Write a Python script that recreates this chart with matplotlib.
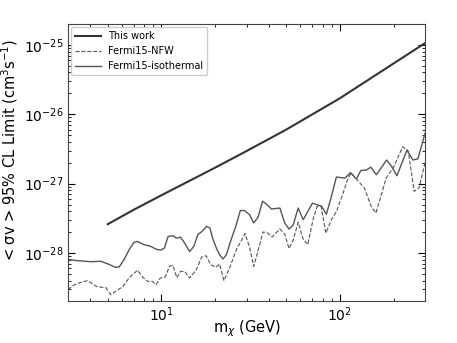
import numpy as np
import matplotlib
matplotlib.use("Agg")
import matplotlib.pyplot as plt

# "This work" limit curve
mass_this = [5, 7, 10, 20, 30, 50, 100, 200, 300]
sigma_this = [2.6e-28, 4.2e-28, 6.8e-28, 1.7e-27, 2.95e-27, 6.0e-27, 1.7e-26, 5.4e-26, 1.06e-25]

# Fermi15 isothermal profile
mass_iso = [3.0, 3.31, 4.01, 4.57, 5.06, 5.54, 5.80, 6.17, 6.60, 7.02, 7.33, 7.99, 8.71, 9.29,
            9.91, 10.4, 10.9, 11.6, 12.1, 12.8, 13.5, 14.4, 15.2, 16.0, 16.9, 17.9, 18.7, 19.5,
            20.4, 21.2, 22.1, 23.1, 24.4, 26.1, 27.7, 29.3, 31.2, 32.9, 34.8, 36.9, 38.8, 41.4,
            46.1, 49.1, 51.9, 54.7, 58.4, 62.3, 70.3, 74.3, 79.0, 84.0, 89.0, 95.6, 106.7, 114.8,
            123.7, 131.2, 140.8, 149.2, 160.2, 182.7, 195, 208.8, 237.5, 256.7, 273.8, 300]
sigma_iso = [8.1e-29, 7.8e-29, 7.5e-29, 7.6e-29, 6.9e-29, 6.2e-29, 6.3e-29, 8.0e-29, 1.12e-28,
             1.42e-28, 1.47e-28, 1.32e-28, 1.25e-28, 1.14e-28, 1.10e-28, 1.18e-28, 1.73e-28,
             1.78e-28, 1.64e-28, 1.69e-28, 1.39e-28, 1.05e-28, 1.25e-28, 1.84e-28, 2.05e-28,
             2.42e-28, 2.28e-28, 1.55e-28, 1.15e-28, 9.4e-29, 8.2e-29, 9.4e-29, 1.47e-28, 2.42e-28,
             4.11e-28, 4.07e-28, 3.56e-28, 2.71e-28, 3.28e-28, 5.58e-28, 5.05e-28, 4.31e-28,
             4.45e-28, 2.71e-28, 2.22e-28, 2.52e-28, 4.45e-28, 3.02e-28, 5.25e-28, 4.97e-28,
             4.73e-28, 3.62e-28, 6.06e-28, 1.245e-27, 1.20e-27, 1.44e-27, 1.165e-27, 1.55e-27,
             1.57e-27, 1.73e-27, 1.34e-27, 2.19e-27, 1.77e-27, 1.30e-27, 3.05e-27, 2.19e-27,
             2.28e-27, 5.3e-27]

# Fermi15 NFW profile
mass_nfw = [3.0, 3.18, 3.45, 3.84, 4.10, 4.36, 4.89, 5.20, 5.54, 6.07, 6.60, 7.35, 7.86, 8.38,
            8.90, 9.33, 9.85, 10.5, 11.1, 11.6, 12.2, 12.8, 13.5, 14.4, 15.7, 16.8, 17.8, 18.9,
            20.2, 21.2, 22.4, 24.2, 26.3, 28.1, 29.4, 31.2, 32.9, 34.8, 37.1, 39.2, 41.7, 46.1,
            49.1, 51.9, 54.7, 58.4, 62.0, 66.1, 70.8, 74.6, 78.5, 83.5, 89.6, 95.6, 104.3, 110.9,
            115.6, 124.1, 137.2, 149.8, 159.2, 168.3, 181.6, 200.9, 224.7, 241.6, 260.7, 277.4, 300]
sigma_nfw = [2.96e-29, 3.38e-29, 3.70e-29, 3.99e-29, 3.61e-29, 3.27e-29, 3.16e-29, 2.51e-29,
             2.80e-29, 3.27e-29, 4.41e-29, 5.65e-29, 4.48e-29, 3.90e-29, 3.90e-29, 3.49e-29,
             4.34e-29, 4.51e-29, 6.41e-29, 6.67e-29, 4.41e-29, 5.43e-29, 5.43e-29, 4.36e-29,
             5.74e-29, 8.76e-29, 9.14e-29, 6.78e-29, 6.24e-29, 6.94e-29, 3.99e-29, 6.24e-29,
             1.12e-28, 1.52e-28, 1.91e-28, 1.21e-28, 6.41e-29, 1.08e-28, 2.01e-28, 1.96e-28,
             1.70e-28, 2.22e-28, 1.87e-28, 1.16e-28, 1.53e-28, 2.78e-28, 1.62e-28, 1.32e-28,
             3.05e-28, 4.69e-28, 4.69e-28, 1.94e-28, 3.02e-28, 3.94e-28, 7.32e-28, 1.18e-27,
             1.42e-27, 1.16e-27, 8.64e-28, 4.69e-28, 3.77e-28, 6.06e-28, 1.20e-27, 1.77e-27,
             3.40e-27, 2.96e-27, 7.72e-28, 8.64e-28, 2.0e-27]

fig = plt.figure(figsize=(4.57, 3.43), dpi=100)
ax = fig.add_axes([0.149, 0.121, 0.781, 0.809])

ax.plot(mass_this, sigma_this, color='#333333', lw=1.5, label='This work')
ax.plot(mass_nfw, sigma_nfw, color='#555555', lw=0.8, ls='--', label='Fermi15-NFW')
ax.plot(mass_iso, sigma_iso, color='#555555', lw=1.0, label='Fermi15-isothermal')

ax.set_xscale('log')
ax.set_yscale('log')
ax.set_xlim(3, 300)
ax.set_ylim(2e-29, 2e-25)

ax.tick_params(which='both', direction='in', top=True, right=True, labelsize=10)
ax.tick_params(which='major', length=5, pad=3)
ax.tick_params(which='minor', length=2.5)
for s in ax.spines.values():
    s.set_color('#444444')

ax.set_xlabel(r'm$_\chi$ (GeV)', fontsize=10.5)
ax.set_ylabel(r'< σv > 95% CL Limit (cm$^3$s$^{-1}$)', fontsize=10.5)
ax.xaxis.set_label_coords(0.5, -0.062)
ax.yaxis.set_label_coords(-0.134, 0.545)

ax.legend(loc='upper left', fontsize=7, framealpha=1, handlelength=2.6,
          borderaxespad=0.35)

fig.savefig('out.png', dpi=100)
